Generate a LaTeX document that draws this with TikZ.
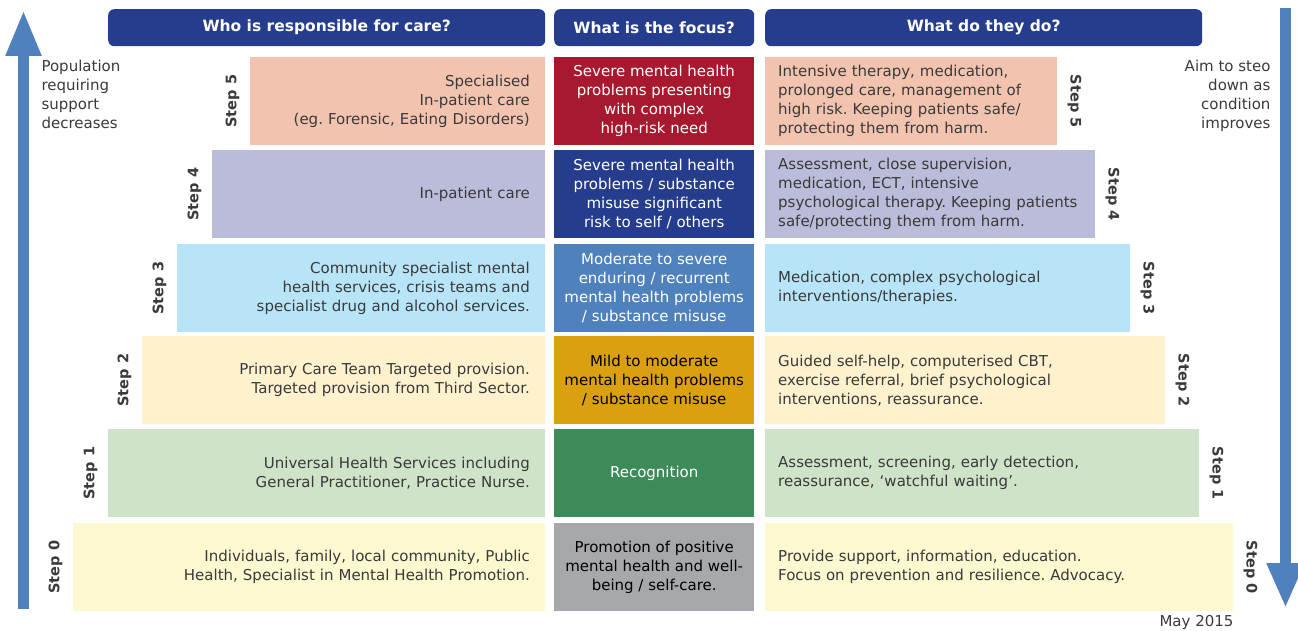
\documentclass[tikz,border=0pt]{standalone}
\usepackage{fontspec}
\setmainfont{DejaVu Sans}
\usepackage{tikz}
\usetikzlibrary{arrows.meta,positioning}
\frenchspacing

\definecolor{navy}{RGB}{37,61,140}
\definecolor{arrowblue}{RGB}{79,129,189}
\definecolor{txtgray}{RGB}{58,58,58}
\definecolor{salmon}{RGB}{242,196,176}
\definecolor{wine}{RGB}{166,25,46}
\definecolor{lavender}{RGB}{187,187,218}
\definecolor{skyblue}{RGB}{184,228,248}
\definecolor{cream}{RGB}{254,242,206}
\definecolor{mustard}{RGB}{219,160,16}
\definecolor{mint}{RGB}{207,227,200}
\definecolor{leaf}{RGB}{60,139,88}
\definecolor{paleyellow}{RGB}{252,248,208}
\definecolor{stone}{RGB}{167,168,172}

\tikzset{
  header/.style={fill=navy,rounded corners=6pt,minimum height=37pt,text=white,
    font=\fontsize{15.5}{18}\selectfont\bfseries,anchor=north west},
  whobox/.style={anchor=north east,minimum height=88pt,inner xsep=15pt,
    align=right,text width=#1,text=txtgray,font=\fontsize{15}{19}\selectfont},
  focusbox/.style={anchor=north west,minimum width=200pt,minimum height=88pt,
    align=center,text=white,font=\fontsize{15}{19}\selectfont},
  dobox/.style={anchor=north west,minimum height=88pt,inner xsep=13pt,
    align=left,text width=#1,text=txtgray,font=\fontsize{15}{19}\selectfont},
  steplbl/.style={text=txtgray,font=\fontsize{14.5}{16}\selectfont\bfseries},
  sidenote/.style={text=txtgray,font=\fontsize{15}{19}\selectfont},
  bigarrow/.style={draw=arrowblue,line width=11pt}
}

\begin{document}
\begin{tikzpicture}[x=1pt,y=-1pt]
  \useasboundingbox (0,0) rectangle (1298,631);

  % column headers
  \node[header,minimum width=437pt] (hwho) at (108,9) {Who is responsible for care?};
  \node[header,minimum width=200pt] (hfocus) at (554,9) {What is the focus?};
  \node[header,minimum width=437pt] (hdo) at (765,9) {What do they do?};

  % step 5
  \node[whobox=265pt,fill=salmon] (who5) at (545,57)
    {Specialised\\In-patient care\\(eg. Forensic, Eating Disorders)};
  \node[focusbox,fill=wine] (focus5) at (554,57)
    {Severe mental health\\problems presenting\\with complex\\high-risk need};
  \node[dobox=266pt,fill=salmon] (do5) at (765,57)
    {Intensive therapy, medication,\\prolonged care, management of\\high risk. Keeping patients safe/\\protecting them from harm.};

  % step 4
  \node[whobox=303pt,fill=lavender] (who4) at (545,150) {In-patient care};
  \node[focusbox,fill=navy] (focus4) at (554,150)
    {Severe mental health\\problems / substance\\misuse significant\\risk to self / others};
  \node[dobox=304pt,fill=lavender] (do4) at (765,150)
    {Assessment, close supervision,\\medication, ECT, intensive\\psychological therapy. Keeping patients\\safe/protecting them from harm.};

  % step 3
  \node[whobox=338pt,fill=skyblue] (who3) at (545,244)
    {Community specialist mental\\health services, crisis teams and\\specialist drug and alcohol services.};
  \node[focusbox,fill=arrowblue] (focus3) at (554,244)
    {Moderate to severe\\enduring / recurrent\\mental health problems\\/ substance misuse};
  \node[dobox=339pt,fill=skyblue] (do3) at (765,244)
    {Medication, complex psychological\\interventions/therapies.};

  % step 2
  \node[whobox=373pt,fill=cream] (who2) at (545,336)
    {Primary Care Team Targeted provision.\\Targeted provision from Third Sector.};
  \node[focusbox,fill=mustard,text=black] (focus2) at (554,336)
    {Mild to moderate\\mental health problems\\/ substance misuse};
  \node[dobox=374pt,fill=cream] (do2) at (765,336)
    {Guided self-help, computerised CBT,\\exercise referral, brief psychological\\interventions, reassurance.};

  % step 1
  \node[whobox=407pt,fill=mint] (who1) at (545,429)
    {Universal Health Services including\\General Practitioner, Practice Nurse.};
  \node[focusbox,fill=leaf] (focus1) at (554,429) {Recognition};
  \node[dobox=408pt,fill=mint] (do1) at (765,429)
    {Assessment, screening, early detection,\\reassurance, `watchful waiting'.};

  % step 0
  \node[whobox=442pt,fill=paleyellow] (who0) at (545,523)
    {Individuals, family, local community, Public\\Health, Specialist in Mental Health Promotion.};
  \node[focusbox,fill=stone,text=black] (focus0) at (554,523)
    {Promotion of positive\\mental health and well-\\being / self-care.};
  \node[dobox=442pt,fill=paleyellow] (do0) at (765,523)
    {Provide support, information, education.\\Focus on prevention and resilience. Advocacy.};

  % step labels
  \node[steplbl,rotate=90] (l5) at ([xshift=-17pt]who5.west) {Step 5};
  \node[steplbl,rotate=90] (l4) at ([xshift=-17pt]who4.west) {Step 4};
  \node[steplbl,rotate=90] (l3) at ([xshift=-17pt]who3.west) {Step 3};
  \node[steplbl,rotate=90] (l2) at ([xshift=-17pt]who2.west) {Step 2};
  \node[steplbl,rotate=90] (l1) at ([xshift=-17pt]who1.west) {Step 1};
  \node[steplbl,rotate=90] (l0) at ([xshift=-17pt]who0.west) {Step 0};
  \node[steplbl,rotate=-90] (r5) at ([xshift=17pt]do5.east) {Step 5};
  \node[steplbl,rotate=-90] (r4) at ([xshift=17pt]do4.east) {Step 4};
  \node[steplbl,rotate=-90] (r3) at ([xshift=17pt]do3.east) {Step 3};
  \node[steplbl,rotate=-90] (r2) at ([xshift=17pt]do2.east) {Step 2};
  \node[steplbl,rotate=-90] (r1) at ([xshift=17pt]do1.east) {Step 1};
  \node[steplbl,rotate=-90] (r0) at ([xshift=17pt]do0.east) {Step 0};

  % side arrows and notes
  \coordinate (upfoot) at (23.5,609);
  \coordinate (uptip) at (23.5,10);
  \coordinate (downtop) at (1285.5,8);
  \coordinate (downtip) at (1285.5,608);
  \draw[bigarrow,-{Triangle[width=33pt,length=46pt]}] (upfoot) -- (uptip);
  \draw[bigarrow,-{Triangle[width=35pt,length=45pt]}] (downtop) -- (downtip);

  \node[sidenote,align=left,anchor=north west] (popnote) at (38,57)
    {Population\\requiring\\support\\decreases};
  \node[sidenote,align=right,anchor=north east] (aimnote) at (1274,57)
    {Aim to steo\\down as\\condition\\improves};
  \node[sidenote,anchor=east] (date) at (1237,622) {May 2015};
\end{tikzpicture}
\end{document}
